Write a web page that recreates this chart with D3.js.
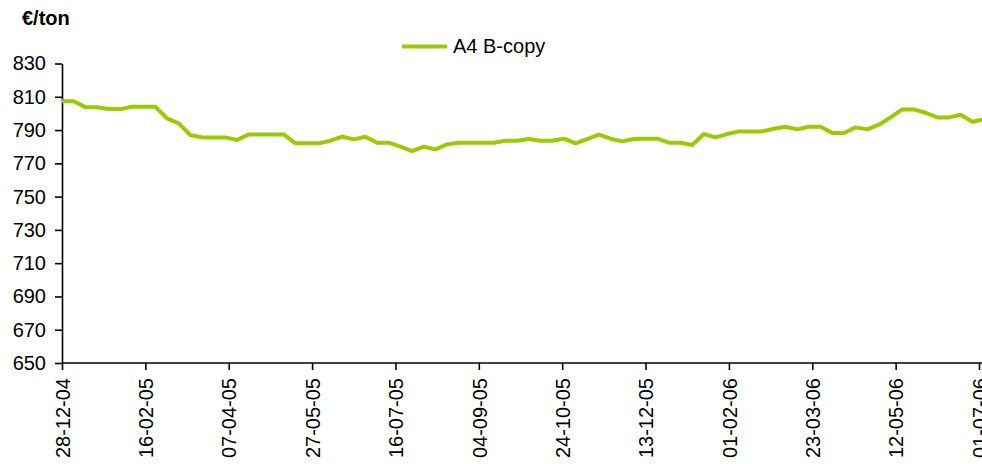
<!DOCTYPE html>
<html>
<head>
<meta charset="utf-8">
<script src="https://cdn.jsdelivr.net/npm/d3@7"></script>
<style>
  html, body { margin: 0; padding: 0; background: #fff; }
  svg { display: block; font-family: "Liberation Sans", Arial, sans-serif; }
</style>
</head>
<body>
<svg id="chart" width="982" height="464"></svg>
<script>
// weekly A4 B-copy price, €/ton, starting 28-12-04
const startDate = '28-12-04';
const seriesName = 'A4 B-copy';
const prices = [
  807.3, 807.3, 803.8, 803.7, 802.6, 802.6, 804, 804, 804, 797,
  794, 787, 785.6, 785.6, 785.6, 784, 787.4, 787.4, 787.4, 787.4,
  782, 782, 782, 783.6, 786, 784.4, 786, 782.4, 782.4, 780,
  777.4, 780, 778.4, 781.4, 782.4, 782.4, 782.4, 782.4, 783.6, 783.6,
  784.6, 783.6, 783.6, 784.8, 782, 784.6, 787.2, 784.8, 783.2, 784.6,
  784.8, 784.8, 782.4, 782.4, 781, 787.6, 785.6, 787.6, 789.2, 789.2,
  789.2, 790.8, 792, 790.4, 792, 792, 788.2, 788.2, 791.6, 790.4,
  793.2, 797.6, 802.4, 802.4, 800.4, 797.6, 797.6, 799.2, 795, 796.4,
];
const xTickLabels = [
  '28-12-04', '16-02-05', '07-04-05', '27-05-05', '16-07-05', '04-09-05',
  '24-10-05', '13-12-05', '01-02-06', '23-03-06', '12-05-06', '01-07-06',
];
const yTicks = [650, 670, 690, 710, 730, 750, 770, 790, 810, 830];

const parseDate = d3.timeParse('%d-%m-%y');
const fmtDate = d3.timeFormat('%d-%m-%y');
const t0 = parseDate(startDate);
const data = prices.map((v, i) => ({ date: d3.timeDay.offset(t0, 7 * i), value: v }));
const tickDates = xTickLabels.map(parseDate);

const lineColor = '#99cc00';
const svg = d3.select('#chart');

const x = d3.scaleTime()
  .domain([tickDates[0], tickDates[tickDates.length - 1]])
  .range([62, 979]);
const y = d3.scaleLinear().domain([650, 830]).range([363, 63.5]);

// title
svg.append('text')
  .attr('x', 22)
  .attr('y', 25)
  .style('font-size', '20px')
  .style('font-weight', 'bold')
  .text('€/ton');

// legend
svg.append('line')
  .attr('x1', 402).attr('x2', 447)
  .attr('y1', 46.5).attr('y2', 46.5)
  .attr('stroke', lineColor)
  .attr('stroke-width', 4);
svg.append('text')
  .attr('x', 453)
  .attr('y', 52.5)
  .style('font-size', '20px')
  .text(seriesName);

// y axis
const yAxis = svg.append('g')
  .attr('transform', 'translate(62,0)')
  .call(d3.axisLeft(y).tickValues(yTicks).tickSize(7).tickPadding(9).tickSizeOuter(0));

// x axis
const xAxis = svg.append('g')
  .attr('transform', `translate(0,${y(650)})`)
  .call(d3.axisBottom(x).tickValues(tickDates).tickFormat(fmtDate).tickSize(7).tickSizeOuter(0));

xAxis.select('.domain').attr('d', `M62,0H982`);

[yAxis, xAxis].forEach((g) => {
  g.select('.domain').attr('stroke', '#000').attr('stroke-width', 1.6);
  g.selectAll('.tick line').attr('stroke', '#000').attr('stroke-width', 1.6);
  g.selectAll('.tick text')
    .attr('fill', '#000')
    .style('font-family', '"Liberation Sans", Arial, sans-serif')
    .style('font-size', '20px');
});

xAxis.selectAll('.tick text')
  .attr('transform', 'rotate(-90)')
  .attr('text-anchor', 'end')
  .attr('x', -15)
  .attr('y', 0)
  .attr('dy', '0.36em');

// series line
const line = d3.line()
  .x((d) => x(d.date))
  .y((d) => y(d.value));

svg.append('path')
  .datum(data)
  .attr('fill', 'none')
  .attr('stroke', lineColor)
  .attr('stroke-width', 4)
  .attr('stroke-linejoin', 'round')
  .attr('d', line);
</script>
</body>
</html>
